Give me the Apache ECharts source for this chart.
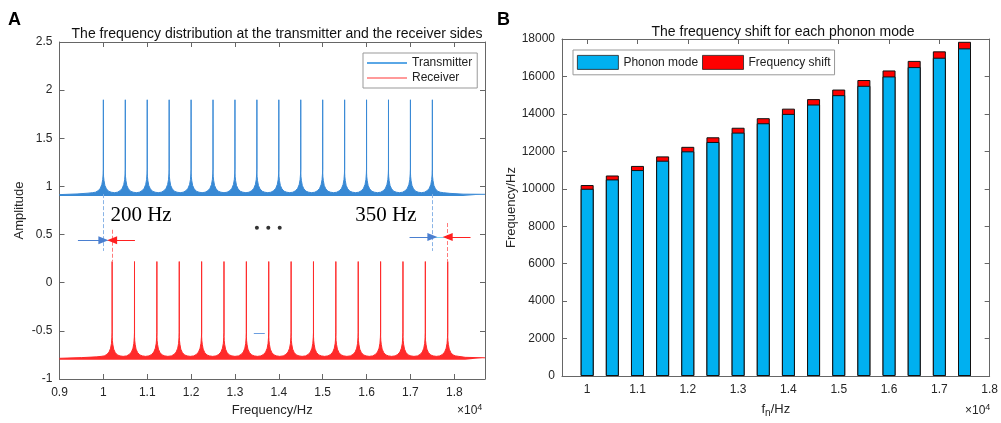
<!DOCTYPE html>
<html><head><meta charset="utf-8">
<script src="https://cdn.jsdelivr.net/npm/echarts@6/dist/echarts.min.js"></script>
<style>html,body{margin:0;padding:0;background:#fff}#c{width:1001px;height:423px}</style>
</head><body><div id="c"></div>
<script>
// ---------- Panel B data ----------
const phononMode = [10000,10500,11000,11500,12000,12500,13000,13500,14000,14500,15000,15500,16000,16500,17000,17500];
const freqShift  = [200,210,220,230,240,250,260,270,280,290,300,310,320,330,340,350];
const xTicksB    = [10000,11000,12000,13000,14000,15000,16000,17000,18000];

// ---------- Panel A data ----------
const txPeaks = [10000,10500,11000,11500,12000,12500,13000,13500,14000,14500,15000,15500,16000,16500,17000,17500];
const rxPeaks = [10200,10710,11220,11730,12240,12750,13260,13770,14280,14790,15300,15810,16320,16830,17340,17850];
// shape of one spectral line (offset in Hz from the line centre)
const peakOffsets = [-250,-180,-120,-70,-35,-15,-5,-1,0,1,5,15,35,70,120,180,250];
const txLevels    = [0.935,0.94,0.955,0.98,1.02,1.07,1.13,1.18,1.90,1.14,1.10,1.06,1.01,0.975,0.95,0.94,0.935];
const rxLevels    = [-0.765,-0.76,-0.745,-0.72,-0.68,-0.63,-0.57,-0.52,0.22,-0.56,-0.60,-0.64,-0.69,-0.725,-0.75,-0.76,-0.765];
const txLeadIn  = [[9000,0.915],[9400,0.922],[9650,0.93]];
const txLeadOut = [[17900,0.928],[18200,0.92],[18700,0.918]];
const rxLeadIn  = [[9000,-0.785],[9500,-0.778],[9850,-0.77]];
const rxLeadOut = [[18250,-0.775],[18700,-0.78]];
const dots = [[13500,0.57],[13760,0.57],[14020,0.57]];

function buildTrace(lead, peaks, levels, tail){
  const out = lead.slice();
  peaks.forEach(c => peakOffsets.forEach((o,i) => out.push([c+o, levels[i]])));
  return out.concat(tail);
}
const txData = buildTrace(txLeadIn, txPeaks, txLevels, txLeadOut);
const rxData = buildTrace(rxLeadIn, rxPeaks, rxLevels, rxLeadOut);

const FONT = 'Liberation Sans';
const AX = '#666';
const LBL = '#262626';

const chart = echarts.init(document.getElementById('c'), null, {renderer:'canvas'});

function seg(x1,y1,x2,y2,color,type,endSym){
  return [
    {coord:[x1,y1], symbol:'none', lineStyle:{color:color,type:type,width:1}},
    {coord:[x2,y2], symbol: endSym || 'none', symbolSize:[8,10], itemStyle:{color:color}}
  ];
}

const sciRich = {sup:{fontSize:9, verticalAlign:'top', padding:[0,0,6,0], fontFamily:FONT, color:LBL}};
const axLine = {show:true, onZero:false, lineStyle:{color:AX}};
const axTick = {show:true, inside:true, length:5, lineStyle:{color:AX}};

chart.setOption({
  animation:false,
  textStyle:{fontFamily:FONT},
  title:[
    {text:'The frequency distribution at the transmitter and the receiver sides', left:272, top:22, textAlign:'center',
      textStyle:{fontSize:14, fontWeight:'normal', color:'#111', fontFamily:FONT}},
    {text:'The frequency shift for each phonon mode', left:778, top:20, textAlign:'center',
      textStyle:{fontSize:14, fontWeight:'normal', color:'#111', fontFamily:FONT}},
    {text:'A', left:3, top:6, textStyle:{fontSize:18, fontWeight:'bold', color:'#000', fontFamily:FONT}},
    {text:'B', left:492, top:6, textStyle:{fontSize:18, fontWeight:'bold', color:'#000', fontFamily:FONT}}
  ],
  legend:[
    {left:363, top:53, orient:'vertical', padding:[3,5,3,4], itemGap:1, itemWidth:40, itemHeight:2,
      borderColor:'#999', borderWidth:1, backgroundColor:'#fff',
      textStyle:{fontSize:12, color:'#222', fontFamily:FONT, lineHeight:14},
      data:[{name:'Transmitter', icon:'rect', itemStyle:{color:'#5aa7e6'}},
            {name:'Receiver', icon:'rect', itemStyle:{color:'#ff9a9a'}}]},
    {left:573, top:50, orient:'horizontal', padding:[5,4,5,4], itemGap:4, itemWidth:41, itemHeight:14,
      borderColor:'#999', borderWidth:1, backgroundColor:'#fff',
      textStyle:{fontSize:12, color:'#222', fontFamily:FONT},
      data:[{name:'Phonon mode', icon:'rect', itemStyle:{borderWidth:0.8, borderColor:'#222'}},
            {name:'Frequency shift', icon:'rect', itemStyle:{borderWidth:0.8, borderColor:'#222'}}]}
  ],
  grid:[
    {left:59.5, right:1001-485, top:42, bottom:423-379},
    {left:562, right:1001-994, top:39, bottom:423-379}
  ],
  xAxis:[
    {gridIndex:0, type:'value', min:9000, max:18700, interval:1000, position:'bottom',
      axisLine:axLine, axisTick:axTick, splitLine:{show:false},
      axisLabel:{color:LBL, fontSize:12, margin:8, formatter:v=> v>18000?'':String(+(v/1e4).toFixed(1))},
      name:'Frequency/Hz', nameLocation:'middle', nameGap:24, nameTextStyle:{fontSize:13, color:LBL}},
    {gridIndex:0, type:'value', min:9000, max:18700, interval:1000, position:'top',
      axisLine:axLine, axisTick:axTick, axisLabel:{show:false}, splitLine:{show:false}},
    {gridIndex:1, type:'value', min:9500, max:18000, position:'bottom',
      axisLine:axLine,
      axisTick:Object.assign({customValues:xTicksB}, axTick),
      splitLine:{show:false},
      axisLabel:{color:LBL, fontSize:12, margin:8, customValues:xTicksB, formatter:v=>String(+(v/1e4).toFixed(1))},
      name:'f{sub|n}/Hz', nameLocation:'middle', nameGap:24,
      nameTextStyle:{fontSize:13, color:LBL, rich:{sub:{fontSize:10, verticalAlign:'bottom', padding:[8,0,0,0], color:LBL}}}},
    {gridIndex:1, type:'value', min:9500, max:18000, position:'top',
      axisLine:axLine,
      axisTick:Object.assign({customValues:xTicksB}, axTick),
      axisLabel:{show:false}, splitLine:{show:false}}
  ],
  yAxis:[
    {gridIndex:0, type:'value', min:-1, max:2.5, interval:0.5, position:'left',
      axisLine:axLine, axisTick:axTick, splitLine:{show:false}, axisLabel:{color:LBL, fontSize:12, margin:7},
      name:'Amplitude', nameLocation:'middle', nameGap:34, nameRotate:90, nameTextStyle:{fontSize:13, color:LBL}},
    {gridIndex:0, type:'value', min:-1, max:2.5, interval:0.5, position:'right',
      axisLine:axLine, axisTick:axTick, splitLine:{show:false}, axisLabel:{show:false}},
    {gridIndex:1, type:'value', min:0, max:18000, interval:2000, position:'left',
      axisLine:axLine, axisTick:axTick, splitLine:{show:false},
      axisLabel:{color:LBL, fontSize:12, margin:7, formatter:v=>String(v)},
      name:'Frequency/Hz', nameLocation:'middle', nameGap:39, nameRotate:90, nameTextStyle:{fontSize:13, color:LBL}},
    {gridIndex:1, type:'value', min:0, max:18000, interval:2000, position:'right',
      axisLine:axLine, axisTick:axTick, splitLine:{show:false}, axisLabel:{show:false}}
  ],
  series:[
    {name:'Transmitter', type:'line', xAxisIndex:0, yAxisIndex:0, data:txData, showSymbol:false, symbol:'none',
      lineStyle:{color:'#3a8ad6', width:1}, itemStyle:{color:'#3a8ad6'},
      areaStyle:{color:'#2d83d2', opacity:0.95, origin:0.9}, z:2},
    {name:'Receiver', type:'line', xAxisIndex:0, yAxisIndex:0, data:rxData, showSymbol:false, symbol:'none',
      lineStyle:{color:'#ff2a2a', width:1}, itemStyle:{color:'#ff2a2a'},
      areaStyle:{color:'#ff1f1f', opacity:0.95, origin:-0.8}, z:2},
    {name:'annot', type:'scatter', xAxisIndex:0, yAxisIndex:0, data:dots, symbol:'circle', symbolSize:4,
      itemStyle:{color:'#000'}, z:5, silent:true,
      markLine:{silent:true, animation:false, symbol:['none','none'], label:{show:false}, z:6,
        data:[
          seg(10000,0.92,10000,0.33,'#8ab4e6','dashed'),
          seg(10200,0.55,10200,0.22,'#ff7a7a','dashed'),
          seg(17500,0.92,17500,0.33,'#8ab4e6','dashed'),
          seg(17850,0.62,17850,0.22,'#ff7a7a','dashed'),
          seg(10000,0.44,10200,0.44,'#7fd3f2','solid'),
          seg(17500,0.475,17850,0.475,'#7fd3f2','solid'),
          seg(9420,0.44,10000,0.44,'#4a7fd0','solid','triangle'),
          seg(10720,0.44,10200,0.44,'#ff2020','solid','triangle'),
          seg(16980,0.475,17500,0.475,'#4a7fd0','solid','triangle'),
          seg(18370,0.475,17850,0.475,'#ff2020','solid','triangle'),
          seg(13430,-0.53,13680,-0.53,'#6b9ee0','solid')
        ]},
      markPoint:{silent:true, animation:false, symbol:'circle', symbolSize:1, itemStyle:{color:'rgba(0,0,0,0)'},
        label:{show:true, position:'right', distance:0, fontFamily:'Liberation Serif', fontSize:21, color:'#000'},
        data:[
          {coord:[10150,0.70], label:{formatter:'200 Hz'}},
          {coord:[15730,0.70], label:{formatter:'350 Hz'}}
        ]}
    },
    {name:'Frequency shift', type:'bar', xAxisIndex:2, yAxisIndex:2, barWidth:13, barGap:'-100%', z:2,
      data:phononMode.map((p,i)=>[p, p + freqShift[i]]),
      itemStyle:{color:'#ff0000', borderColor:'#111', borderWidth:1}},
    {name:'Phonon mode', type:'bar', xAxisIndex:2, yAxisIndex:2, barWidth:13, barGap:'-100%', z:3,
      data:phononMode.map(p=>[p, p]),
      itemStyle:{color:'#00b0f0', borderColor:'#111', borderWidth:1}}
  ],
  graphic:[
    {type:'text', left:457, top:403, style:{text:'×10{sup|4}', fontSize:12, fill:LBL, fontFamily:FONT, rich:sciRich}},
    {type:'text', left:965, top:403, style:{text:'×10{sup|4}', fontSize:12, fill:LBL, fontFamily:FONT, rich:sciRich}}
  ]
});
</script></body></html>
